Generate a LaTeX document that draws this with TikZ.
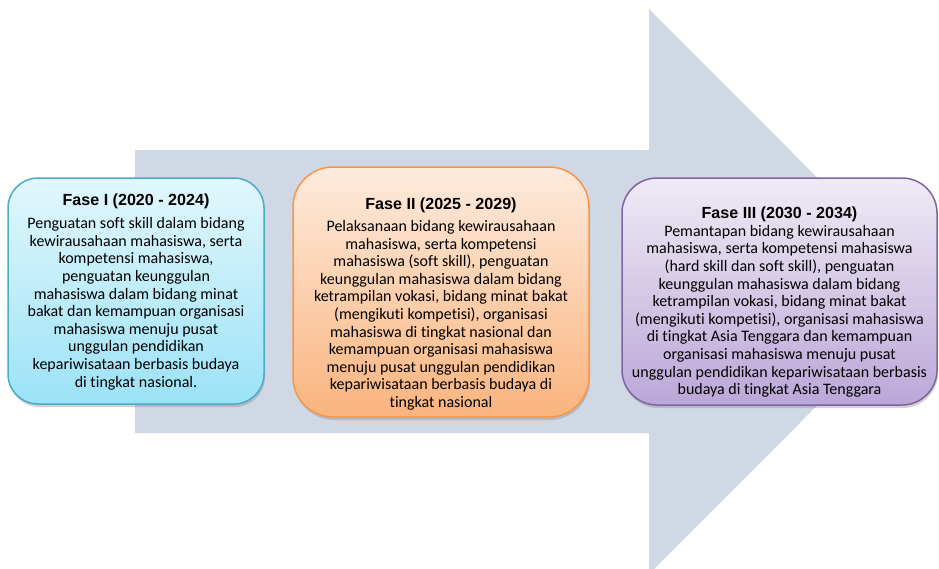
\documentclass[tikz,border=0pt]{standalone}
\usepackage{fontspec}
\setmainfont{Carlito}[Ligatures=NoCommon]
\newfontfamily\headfont{Liberation Sans}
\usetikzlibrary{calc,shadows}

\definecolor{arrowbg}{HTML}{D0D8E6}
\definecolor{cyanline}{HTML}{4BACC6}
\definecolor{cyantop}{HTML}{E2F7FD}
\definecolor{cyanbot}{HTML}{9CE2F6}
\definecolor{orgline}{HTML}{F79646}
\definecolor{orgtop}{HTML}{FDEBDD}
\definecolor{orgbot}{HTML}{FAB47E}
\definecolor{purline}{HTML}{8064A2}
\definecolor{purtop}{HTML}{EFEBF5}
\definecolor{purbot}{HTML}{BBA7D8}

\tikzset{
  fase/.style={draw, rounded corners=#1, line width=1.5pt,
    drop shadow={shadow xshift=1pt, shadow yshift=-3pt, opacity=0.35}},
  body/.style={align=center, inner sep=0pt,
    font=\fontsize{16}{17.6}\selectfont},
}
\newcommand{\fasetitle}[1]{{\headfont\bfseries\fontsize{16.1}{18}\selectfont #1}}

\begin{document}
\begin{tikzpicture}[x=1pt, y=-1pt]
      \clip (0,0) rectangle (939,568);
      \fill [arrowbg] (135,150) -- (649,150) -- (649,9) -- (931,291.5)
            -- (649,574) -- (649,433) -- (135,433) -- cycle;

      \node [fase=30pt, draw=cyanline, top color=cyantop, bottom color=cyanbot,
             minimum width=256pt, minimum height=226pt] (f1) at (136,291) {};
      \node [fase=40pt, draw=orgline, top color=orgtop, bottom color=orgbot,
             minimum width=296pt, minimum height=250pt] (f2) at (441,292) {};
      \node [fase=35pt, draw=purline, top color=purtop, bottom color=purbot,
             minimum width=315pt, minimum height=227pt] (f3) at (779.5,291.5) {};

      \node [body] (t1) at ($(f1.center)+(0,1)$) {\fasetitle{Fase I (2020 - 2024)}\\[5.4pt]
        Penguatan soft skill dalam bidang\\
        kewirausahaan mahasiswa, serta\\
        kompetensi mahasiswa,\\
        penguatan keunggulan\\
        mahasiswa dalam bidang minat\\
        bakat dan kemampuan organisasi\\
        mahasiswa menuju pusat\\
        unggulan pendidikan\\
        kepariwisataan berbasis budaya\\
        di tingkat nasional.};
      \node [body] (t2) at ($(f2.center)+(0,12)$) {\fasetitle{Fase II (2025 - 2029)}\\[4.4pt]
        Pelaksanaan bidang kewirausahaan\\
        mahasiswa, serta kompetensi\\
        mahasiswa (soft skill), penguatan\\
        keunggulan mahasiswa dalam bidang\\
        ketrampilan vokasi, bidang minat bakat\\
        (mengikuti kompetisi), organisasi\\
        mahasiswa di tingkat nasional dan\\
        kemampuan organisasi mahasiswa\\
        menuju pusat unggulan pendidikan\\
        kepariwisataan berbasis budaya di\\
        tingkat nasional};
      \node [body] (t3) at ($(f3.center)+(0,10.5)$) {\fasetitle{Fase III (2030 - 2034)}\\[0.4pt]
        Pemantapan bidang kewirausahaan\\
        mahasiswa, serta kompetensi mahasiswa\\
        (hard skill dan soft skill), penguatan\\
        keunggulan mahasiswa dalam bidang\\
        ketrampilan vokasi, bidang minat bakat\\
        (mengikuti kompetisi), organisasi mahasiswa\\
        di tingkat Asia Tenggara dan kemampuan\\
        organisasi mahasiswa menuju pusat\\
        unggulan pendidikan kepariwisataan berbasis\\
        budaya di tingkat Asia Tenggara};
\end{tikzpicture}
\end{document}
